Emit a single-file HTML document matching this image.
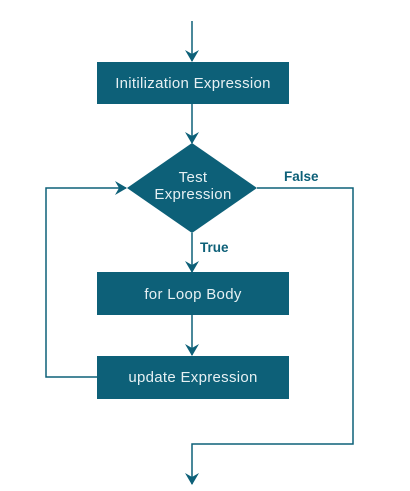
<!DOCTYPE html>
<html><head><style>html,body{margin:0;padding:0;background:#fff;}svg{display:block}</style></head>
<body>
<svg width="410" height="491" viewBox="0 0 410 491" xmlns="http://www.w3.org/2000/svg">
<defs>
<marker id="a" markerWidth="12" markerHeight="14" refX="11" refY="7" orient="auto" markerUnits="userSpaceOnUse">
<path d="M0,0 L12,7 L0,14 L4,7 Z" fill="#0d6078"/>
</marker>
</defs>
<g stroke="#0d6078" stroke-width="1.5" fill="none">
<line x1="192" y1="21" x2="192" y2="61" marker-end="url(#a)"/>
<line x1="192" y1="104" x2="192" y2="143" marker-end="url(#a)"/>
<line x1="192" y1="233" x2="192" y2="272" marker-end="url(#a)"/>
<line x1="192" y1="315" x2="192" y2="355" marker-end="url(#a)"/>
<polyline points="97,377 46,377 46,188 126,188" marker-end="url(#a)"/>
<polyline points="257,188 353,188 353,444 192,444 192,484" marker-end="url(#a)"/>
</g>
<g fill="#0d6078">
<rect x="97" y="62" width="192" height="42"/>
<rect x="97" y="272" width="192" height="43"/>
<rect x="97" y="356" width="192" height="43"/>
<polygon points="192,143 257,188 192,233 127,188"/>
</g>
<g font-family="'Liberation Sans',sans-serif" font-size="15" letter-spacing="0.3" fill="#e6f0f3" text-anchor="middle">
<text x="193" y="88">Initilization Expression</text>
<text x="193" y="182">Test</text>
<text x="193" y="199">Expression</text>
<text x="193" y="299">for Loop Body</text>
<text x="193" y="382">update Expression</text>
</g>
<g font-family="'Liberation Sans',sans-serif" font-size="13.5" font-weight="bold" fill="#0d6078">
<text x="284" y="181">False</text>
<text x="200" y="252">True</text>
</g>
</svg>
</body></html>
